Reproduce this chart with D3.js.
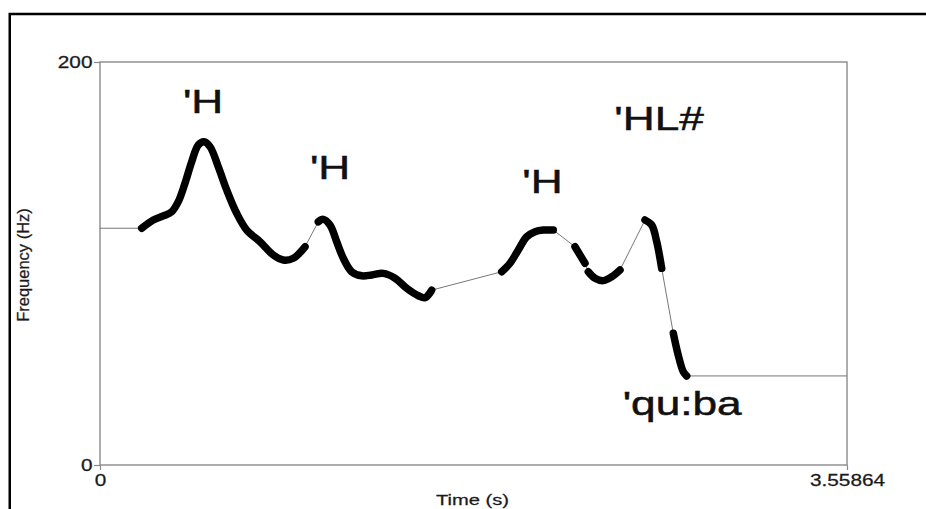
<!DOCTYPE html>
<html>
<head>
<meta charset="utf-8">
<script src="https://cdn.jsdelivr.net/npm/d3@7/dist/d3.min.js"></script>
<style>
  html, body { margin: 0; padding: 0; background: #ffffff; }
  svg { display: block; }
  text { font-family: "Liberation Sans", Arial, Helvetica, sans-serif; }
</style>
</head>
<body>
<script>
// ---------------- DATA ----------------
const timeDomain = [0, 3.55864];
const freqDomain = [0, 200];
const xTickValues = [0, 3.55864];
const xTickLabels = ["0", "3.55864"];
const yTickValues = [0, 200];
const yTickLabels = ["0", "200"];
const xTitle = "Time (s)";
const yTitle = "Frequency (Hz)";

// voiced stretches of the pitch contour: time (s)
const voicedTimes = [
  [0.1987, 0.2539, 0.3016, 0.3416, 0.3730, 0.4049, 0.4369, 0.4683, 0.4955, 0.5240, 0.5636, 0.6036, 0.6512, 0.6989, 0.7622, 0.8256, 0.8732, 0.9209, 0.9766],
  [1.0400, 1.0638, 1.0957, 1.1276, 1.1591, 1.1991, 1.2467, 1.2944, 1.3496, 1.4054, 1.4611, 1.5164, 1.5483, 1.5802],
  [1.9137, 1.9532, 1.9927, 2.0328, 2.0723, 2.1119, 2.1595],
  [2.2629, 2.3105],
  [2.3262, 2.3581, 2.3977, 2.4377, 2.4773],
  [2.5964, 2.6283, 2.6521, 2.6759],
  [2.7312, 2.7545, 2.7788, 2.7950]
];
// matching pitch values (Hz)
const voicedHz = [
  [117.5, 121.6, 123.6, 125.7, 130.7, 139.8, 150.5, 158.8, 160.4, 158.0, 148.0, 136.5, 124.9, 116.6, 110.8, 104.2, 101.7, 102.6, 108.3],
  [120.7, 121.9, 119.1, 110.8, 102.6, 95.9, 93.9, 94.3, 95.1, 92.7, 87.7, 84.0, 83.0, 86.8],
  [95.9, 100.1, 106.7, 113.3, 115.8, 116.6, 116.6],
  [108.3, 100.1],
  [95.9, 92.7, 91.5, 93.4, 96.8],
  [121.6, 119.1, 110.8, 97.6],
  [65.4, 54.6, 46.3, 44.2]
];

// tonal annotations (text, anchored at time / Hz of text start & baseline)
const annoText = ["'H", "'H", "'H", "'HL#", "'qu:ba"];
const annoTime = [0.395, 1.000, 2.012, 2.450, 2.490];
const annoHz   = [174.7, 141.8, 134.8, 166.3, 24.8];

// ---------------- LAYOUT ----------------
const W = 926, H = 509;
const M = { left: 100, right: 926 - 847, top: 62, bottom: 509 - 465 };
const SX = 1.3; // horizontal stretch of the original lettering

const svg = d3.select("body").append("svg")
  .attr("width", W).attr("height", H);

svg.append("rect").attr("x", 0).attr("y", 0).attr("width", W).attr("height", H).attr("fill", "#ffffff");

// outer frame (runs off the right and bottom edges)
svg.append("rect")
  .attr("x", 9.75).attr("y", 14)
  .attr("width", 1000).attr("height", 1000)
  .attr("fill", "none").attr("stroke", "#000").attr("stroke-width", 2.5);

const x = d3.scaleLinear().domain(timeDomain).range([M.left, W - M.right]);
const y = d3.scaleLinear().domain(freqDomain).range([H - M.bottom, M.top]);

// plot box
svg.append("rect")
  .attr("x", x(timeDomain[0])).attr("y", y(freqDomain[1]))
  .attr("width", x(timeDomain[1]) - x(timeDomain[0]))
  .attr("height", y(freqDomain[0]) - y(freqDomain[1]))
  .attr("fill", "none").attr("stroke", "#8a8a8a").attr("stroke-width", 1.4);

function stretchText(sel) {
  sel.each(function () {
    const t = d3.select(this);
    const xv = +t.attr("x") || 0;
    t.attr("x", xv / SX).attr("transform", `scale(${SX},1)`);
  });
}

// axes
const yAxis = d3.axisLeft(y).tickValues(yTickValues)
  .tickFormat((d, i) => yTickLabels[i]).tickSize(6).tickPadding(1.5);
const gy = svg.append("g").attr("transform", `translate(${x(timeDomain[0])},0)`).call(yAxis);
gy.select(".domain").remove();
gy.selectAll(".tick line").attr("stroke", "#8a8a8a").attr("stroke-width", 1.2);
gy.selectAll(".tick text").attr("fill", "#1a1a1a").style("font-size", "16px")
  .attr("stroke", "#1a1a1a").attr("stroke-width", 0.25)
  .style("font-family", '"Liberation Sans", Arial, sans-serif').call(stretchText);

const xAxis = d3.axisBottom(x).tickValues(xTickValues)
  .tickFormat((d, i) => xTickLabels[i]).tickSize(5).tickPadding(5);
const gx = svg.append("g").attr("transform", `translate(0,${y(freqDomain[0])})`).call(xAxis);
gx.select(".domain").remove();
gx.selectAll(".tick line").attr("stroke", "#8a8a8a").attr("stroke-width", 1.2);
gx.selectAll(".tick text").attr("fill", "#1a1a1a").style("font-size", "16px")
  .attr("stroke", "#1a1a1a").attr("stroke-width", 0.25)
  .style("font-family", '"Liberation Sans", Arial, sans-serif').call(stretchText);

// axis titles
svg.append("text")
  .attr("transform", `translate(${(x(timeDomain[0]) + x(timeDomain[1])) / 2 - 1},505) scale(${SX},1)`)
  .attr("text-anchor", "middle").attr("fill", "#1a1a1a").style("font-size", "15.5px")
  .attr("stroke", "#1a1a1a").attr("stroke-width", 0.25)
  .text(xTitle);

svg.append("text")
  .attr("transform", `translate(28.5,${(y(freqDomain[0]) + y(freqDomain[1])) / 2 + 1.5}) rotate(-90)`)
  .attr("text-anchor", "middle").attr("fill", "#1a1a1a").style("font-size", "16.5px")
  .attr("stroke", "#1a1a1a").attr("stroke-width", 0.25)
  .text(yTitle);

// thin connecting line across unvoiced gaps (plus lead-in / tail-out to the plot edges)
const connectPts = [];
voicedTimes.forEach((ts, i) => {
  ts.forEach((t, j) => connectPts.push([t, voicedHz[i][j]]));
});
connectPts.unshift([timeDomain[0], voicedHz[0][0]]);
connectPts.push([timeDomain[1], voicedHz[voicedHz.length - 1][voicedHz[voicedHz.length - 1].length - 1]]);

svg.append("path")
  .attr("d", d3.line().x(d => x(d[0])).y(d => y(d[1]))(connectPts))
  .attr("fill", "none").attr("stroke", "#777").attr("stroke-width", 1);

// thick voiced stretches
const thick = d3.line().x(d => x(d[0])).y(d => y(d[1])).curve(d3.curveCatmullRom.alpha(0.5));
voicedTimes.forEach((ts, i) => {
  const pts = ts.map((t, j) => [t, voicedHz[i][j]]);
  svg.append("path")
    .attr("d", thick(pts))
    .attr("fill", "none").attr("stroke", "#000").attr("stroke-width", 7.5)
    .attr("stroke-linecap", "round").attr("stroke-linejoin", "round");
});

// annotations
annoText.forEach((s, i) => {
  svg.append("text")
    .attr("transform", `translate(${x(annoTime[i])},${y(annoHz[i])}) scale(${SX},1)`)
    .attr("fill", "#111").attr("stroke", "#111").attr("stroke-width", 0.5)
    .style("font-size", "34px")
    .text(s);
});
</script>
</body>
</html>
